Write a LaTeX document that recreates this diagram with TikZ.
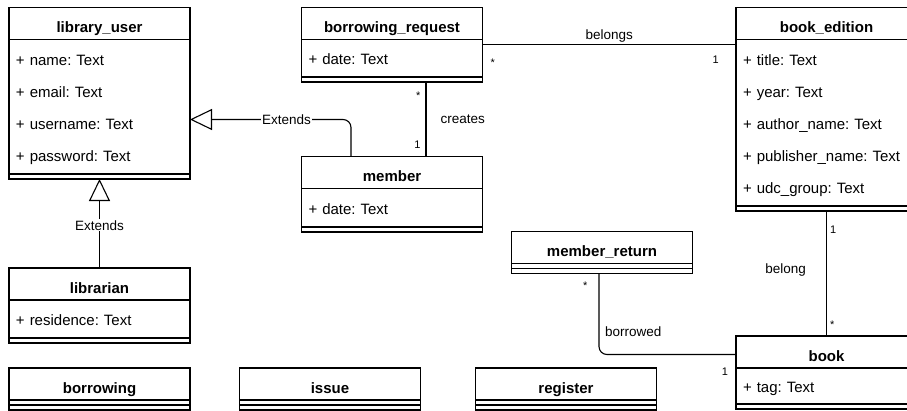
\documentclass[tikz,border=0pt]{standalone}
\usepackage{fontspec}
\setmainfont{Liberation Sans}
\usepackage{tikz}
\usetikzlibrary{arrows.meta,positioning,calc}
\frenchspacing

\begin{document}
\begin{tikzpicture}[
  x=1pt, y=-1pt,
  line width=1.1pt,
  head/.style={draw,minimum width=181pt,minimum height=32pt,inner sep=0pt,
               outer sep=0pt,text height=21.5pt,text depth=3.5pt,
               font=\bfseries\fontsize{15}{18}\selectfont},
  attrs/.style={draw,minimum width=181pt,text width=167pt,inner xsep=7pt,
                inner ysep=0pt,outer sep=0pt,align=left,
                font=\fontsize{15}{32}\selectfont,
                execute at begin node={\rule{0pt}{16.5pt}},
                execute at end node={\rule[-3.2pt]{0pt}{3.2pt}}},
  ops/.style={draw,minimum width=181pt,minimum height=5pt,inner sep=0pt,
              outer sep=0pt},
  assoc/.style={line width=1.1pt},
  gen/.style={line width=1.1pt,-{Triangle[open,length=22pt,width=21pt]}},
  lbl/.style={inner sep=1pt,font=\fontsize{13.5}{16}\selectfont},
  mult/.style={inner sep=0pt,font=\fontsize{11}{13}\selectfont}
]
  \useasboundingbox (0,0) rectangle (907,410);
  \clip (0,0) rectangle (907,410);

  % classes
  \node[head,anchor=north west] (lu) at (9,7.5) {library\_user};
  \node[attrs,below=0pt of lu,minimum height=134.5pt] (lu-a)
    {+ name: Text\\+ email: Text\\+ username: Text\\+ password: Text};
  \node[ops,below=0pt of lu-a] (lu-o) {};

  \node[head,anchor=north west] (lb) at (9,268) {librarian};
  \node[attrs,below=0pt of lb,minimum height=38pt] (lb-a) {+ residence: Text};
  \node[ops,below=0pt of lb-a] (lb-o) {};

  \node[head,anchor=north west] (br) at (301.5,7.5) {borrowing\_request};
  \node[attrs,below=0pt of br,minimum height=37.5pt] (br-a) {+ date: Text};
  \node[ops,below=0pt of br-a] (br-o) {};

  \node[head,anchor=north west] (mem) at (301.5,156.5) {member};
  \node[attrs,below=0pt of mem,minimum height=38.5pt] (mem-a) {+ date: Text};
  \node[ops,below=0pt of mem-a] (mem-o) {};

  \node[head,anchor=north west] (be) at (736,7.5) {book\_edition};
  \node[attrs,below=0pt of be,minimum height=166.5pt] (be-a)
    {+ title: Text\\+ year: Text\\+ author\_name: Text\\+ publisher\_name: Text\\+ udc\_group: Text};
  \node[ops,below=0pt of be-a] (be-o) {};

  \node[head,anchor=north west] (mr) at (511.5,231.5) {member\_return};
  \node[ops,below=0pt of mr] (mr-a) {};
  \node[ops,below=0pt of mr-a] (mr-o) {};

  \node[head,anchor=north west] (bk) at (736,336) {book};
  \node[attrs,below=0pt of bk,minimum height=36pt] (bk-a) {+ tag: Text};
  \node[ops,below=0pt of bk-a] (bk-o) {};

  \node[head,anchor=north west] (bw) at (9,368) {borrowing};
  \node[ops,below=0pt of bw] (bw-a) {};
  \node[ops,below=0pt of bw-a] (bw-o) {};

  \node[head,anchor=north west] (is) at (239.5,368) {issue};
  \node[ops,below=0pt of is] (is-a) {};
  \node[ops,below=0pt of is-a] (is-o) {};

  \node[head,anchor=north west] (rg) at (475.5,368) {register};
  \node[ops,below=0pt of rg] (rg-a) {};
  \node[ops,below=0pt of rg-a] (rg-o) {};

  % generalisations
  \draw[gen,rounded corners=8pt] ($(mem.north)+(-41,0)$) |-
    node[lbl,fill=white,pos=0.7] {Extends} ($(lu-a.east)+(0,12.75)$);
  \draw[gen] (lb.north) -- node[lbl,fill=white,pos=0.48] {Extends} (lu-o.south);

  % associations
  \draw[assoc] ($(br-o.south)+(34,0)$) --
    node[lbl,right=13pt] {creates}
    node[mult,pos=0.18,left=5pt] {*}
    node[mult,pos=0.84,left=5pt] {1} ($(mem.north)+(34,0)$);
  \draw[assoc] ($(br-a.north east)+(0,4.8)$) --
    node[lbl,above=0pt] {belongs}
    node[mult,pos=0.04,below=14pt] {*}
    node[mult,pos=0.92,below=10.7pt] {1} ($(be-a.north west)+(0,4.8)$);
  \draw[assoc] (be-o.south) --
    node[lbl,pos=0.47,left=19pt] {belong}
    node[mult,pos=0.15,right=3pt] {1}
    node[mult,pos=0.91,right=3pt] {*} (bk.north);
  \draw[assoc,rounded corners=8pt] ($(mr-o.south)+(-3,0)$) |-
    node[lbl,pos=0.625,above=16pt] {borrowed}
    node[mult,pos=0.074,left=11pt] {*}
    node[mult,pos=0.96,below=12.5pt] {1} ($(bk.west)+(0,2.5)$);
\end{tikzpicture}
\end{document}
